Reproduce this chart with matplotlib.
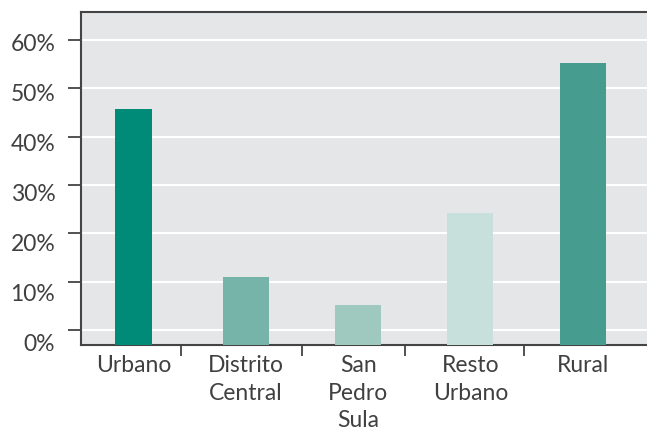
import matplotlib.pyplot as plt
from matplotlib.transforms import ScaledTranslation
import numpy as np

# Datos
categorias = ['Urbano', 'Distrito\nCentral', 'San\nPedro\nSula', 'Resto\nUrbano', 'Rural']
valores = [45.8, 11.0, 5.2, 24.2, 55.3]
colores = ['#008A78', '#76B3A9', '#9FC8BF', '#C8E0DC', '#459C8F']
anchos = [0.33, 0.41, 0.41, 0.41, 0.41]
separadores = [0.42, 1.50, 2.42, 3.48]
yticks = [0, 10, 20, 30, 40, 50, 60]

TextColor = '#404040'
FontSize = 16.5
plt.rcParams['font.family'] = ['Lato', 'DejaVu Sans']

fig = plt.figure(figsize=(6.47, 4.34), dpi=100)
ax = fig.add_axes([81/647, 89/434, 1 - 81/647 + 0.002, (345-12)/434])
ax.set_facecolor('#E5E6E8')

base = -3.1   # las barras salen desde el borde inferior del eje
x = np.arange(len(categorias))
ax.bar(x, np.array(valores) - base, width=anchos, color=colores, bottom=base, zorder=3)

ax.set_xlim(-0.47, 4.585)
ax.set_ylim(base, 65.8)

ax.set_yticks(yticks)
ax.set_yticklabels(['%d%%' % v for v in yticks])
ax.grid(axis='y', color='white', linewidth=1.5, zorder=1)
ax.set_axisbelow(True)

ax.set_xticks(x)
ax.set_xticklabels(categorias, linespacing=1.4)
ax.set_xticks(separadores, minor=True)

ax.tick_params(axis='y', length=9.5, width=1.2, color='#333333', pad=9,
               labelsize=FontSize, labelcolor=TextColor)
ax.tick_params(axis='x', which='major', length=0, pad=7,
               labelsize=FontSize, labelcolor=TextColor)
ax.tick_params(axis='x', which='minor', length=8, width=1.2, color='#333333')

# etiquetas del eje y algo desplazadas hacia abajo, como en el original
for v, lab in zip(yticks, ax.get_yticklabels()):
    dy = (2 + (60 - v) / 60 * 10) / 100
    lab.set_transform(lab.get_transform() + ScaledTranslation(0, -dy, fig.dpi_scale_trans))

for s in ['left', 'bottom', 'top']:
    ax.spines[s].set_color('#444444')
    ax.spines[s].set_linewidth(1.5)
ax.spines['right'].set_visible(False)

plt.savefig('out.png', dpi=100)
